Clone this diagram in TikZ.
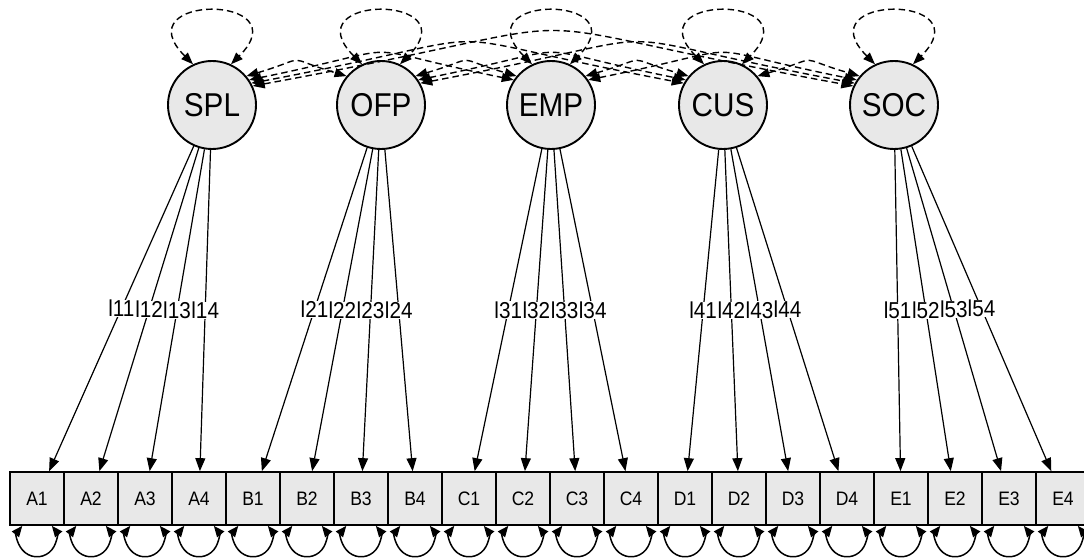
\documentclass[tikz,border=0pt]{standalone}
\usepackage{fontspec}
\setmainfont[FakeStretch=0.9]{Liberation Sans}
\usetikzlibrary{calc,arrows.meta}
\newcommand\covlink[5]{%
  \path ($(#1.#3)!0.5!(#2.#4)$) ++(0,#5) coordinate (m-#1-#2);
  \draw[covar] (#1.#3) .. controls ($(#1.#3)!1.333!(m-#1-#2)$) and ($(#2.#4)!1.333!(m-#1-#2)$) .. (#2.#4);}
\begin{document}
\begin{tikzpicture}[x=1pt,y=1pt,
  latent/.style={circle,draw,line width=1.9pt,fill=black!9,minimum size=88pt,inner sep=0pt,font=\fontsize{33}{33}\selectfont},
  manifest/.style={rectangle,draw,line width=1.7pt,fill=black!9,minimum width=54pt,minimum height=53pt,inner sep=0pt,font=\fontsize{19.5}{19.5}\selectfont},
  load/.style={line width=1.2pt,-{Triangle[length=13pt,width=10pt]}},
  lab/.style={fill=white,inner sep=0.3pt,font=\fontsize{23}{23}\selectfont},
  covar/.style={line width=1.4pt,dash pattern=on 6.5pt off 4pt,{Triangle[length=12pt,width=9pt]}-{Triangle[length=12pt,width=9pt]}},
  resid/.style={line width=1.5pt,{Triangle[length=11pt,width=9pt]}-{Triangle[length=11pt,width=9pt]}}
]
\useasboundingbox (0,0) rectangle (1084,558);
\clip (0,0) rectangle (1084,558);
\fill[white] (0,0) rectangle (1084,558);

% latent variables
\node[latent] (SPL) at (212,453) {SPL};
\node[latent] (OFP) at (381,453) {OFP};
\node[latent] (EMP) at (551,453) {EMP};
\node[latent] (CUS) at (723,453) {CUS};
\node[latent] (SOC) at (894,453) {SOC};

% manifest variables
\foreach \n [count=\i from 0] in {A1,A2,A3,A4,B1,B2,B3,B4,C1,C2,C3,C4,D1,D2,D3,D4,E1,E2,E3,E4}
  \node[manifest] (\n) at ({37+54*\i},59.5) {\n};

% loadings
\foreach \l/\m in {SPL/A1,SPL/A2,SPL/A3,SPL/A4,OFP/B1,OFP/B2,OFP/B3,OFP/B4,EMP/C1,EMP/C2,EMP/C3,EMP/C4,CUS/D1,CUS/D2,CUS/D3,CUS/D4,SOC/E1,SOC/E2,SOC/E3,SOC/E4}
  \draw[load] (\l) -- (\m);
\foreach \l/\m/\t in {SPL/A1/l11,SPL/A2/l12,SPL/A3/l13,SPL/A4/l14,OFP/B1/l21,OFP/B2/l22,OFP/B3/l23,OFP/B4/l24,EMP/C1/l31,EMP/C2/l32,EMP/C3/l33,EMP/C4/l34,CUS/D1/l41,CUS/D2/l42,CUS/D3/l43,CUS/D4/l44,SOC/E1/l51,SOC/E2/l52,SOC/E3/l53,SOC/E4/l54}
  \path (\l) -- (\m) node[midway,lab] {\t};

% residual variances
\foreach \n in {A1,A2,A3,A4,B1,B2,B3,B4,C1,C2,C3,C4,D1,D2,D3,D4,E1,E2,E3,E4}
  \draw[resid] ([xshift=-14.7pt]\n.south) arc[start angle=141,end angle=399,radius=19pt];

% latent variances
\foreach \n in {SPL,OFP,EMP,CUS,SOC}
  \draw[covar] (\n.115) .. controls +(135:100) and +(45:100) .. (\n.65);

% covariances
\covlink{SPL}{OFP}{40}{140}{15}
\covlink{OFP}{EMP}{40}{140}{15}
\covlink{EMP}{CUS}{40}{140}{15}
\covlink{CUS}{SOC}{40}{140}{15}
\covlink{SPL}{EMP}{34}{146}{27}
\covlink{OFP}{CUS}{34}{146}{27}
\covlink{EMP}{SOC}{34}{146}{27}
\covlink{SPL}{CUS}{29}{151}{41}
\covlink{OFP}{SOC}{29}{151}{41}
\covlink{SPL}{SOC}{25}{155}{55}
\end{tikzpicture}
\end{document}
